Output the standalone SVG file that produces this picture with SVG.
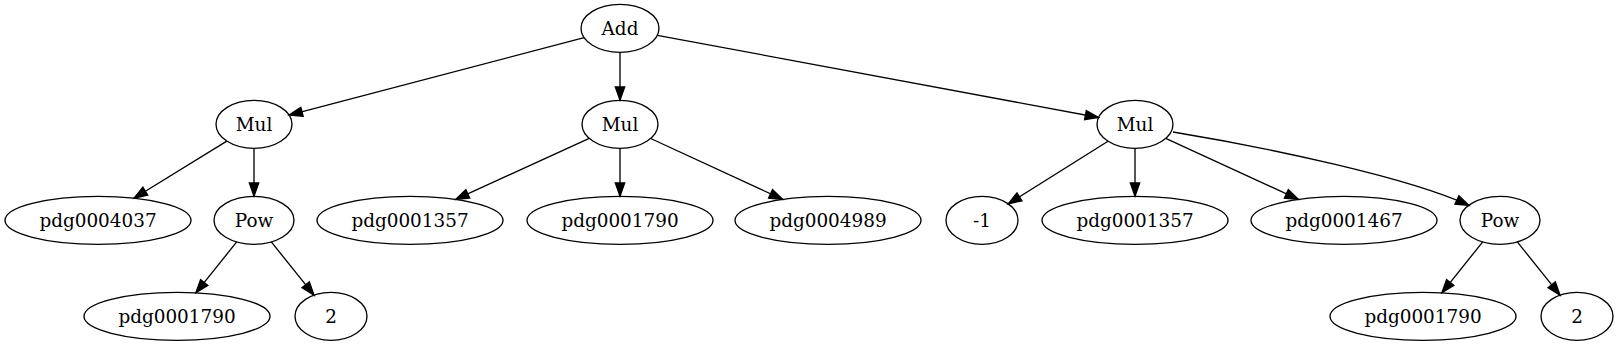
<svg xmlns="http://www.w3.org/2000/svg" width="1618" height="347" viewBox="0 0 1618 347">
<style>
.n ellipse{fill:none;stroke:#000;stroke-width:1.33}
.n text{font-family:"DejaVu Serif","Liberation Serif",serif;font-size:18.4px;text-anchor:middle;fill:#000}
.e path{fill:none;stroke:#000;stroke-width:1.33;marker-end:url(#ah)}
</style>
<defs>
<marker id="ah" markerUnits="userSpaceOnUse" markerWidth="16" markerHeight="12" refX="13.3" refY="5" orient="auto" overflow="visible">
<path d="M0,0.33 L13.3,5 L0,9.67 Z" fill="#000" stroke="#000" stroke-width="1.33"/>
</marker>
</defs>
<rect width="1618" height="347" fill="#fff"/>
<g id="connectors" class="e">
<path d="M584.1,37.7 L289.1,115.1"/>
<path d="M620,52.3 L620,100.3"/>
<path d="M657.3,35.3 L1098.5,117.5"/>
<path d="M226.8,141.1 L134,198.2"/>
<path d="M254,148.3 L254,196.3"/>
<path d="M236.7,241.9 L195.9,292.8"/>
<path d="M271.3,241.9 L314,295.1"/>
<path d="M589.2,138.4 L455.7,199.4"/>
<path d="M620,148.3 L620,196.3"/>
<path d="M650.7,138.5 L782.6,199.4"/>
<path d="M1108,141.2 L1008.2,203.9"/>
<path d="M1135,148.3 L1135,196.3"/>
<path d="M1165.7,138.4 L1298.4,199.4"/>
<path d="M1173,132 C1270,148 1410,178 1469,205.5"/>
<path d="M1482.7,241.9 L1441.9,292.8"/>
<path d="M1517.3,241.9 L1560,295.1"/>
</g>
<g id="add" class="n"><ellipse cx="620" cy="28.3" rx="39" ry="24"/><text x="620" y="34.5">Add</text></g>
<g id="mul1" class="n"><ellipse cx="254" cy="124.3" rx="38" ry="24"/><text x="254" y="130.5">Mul</text></g>
<g id="mul2" class="n"><ellipse cx="620" cy="124.3" rx="38" ry="24"/><text x="620" y="130.5">Mul</text></g>
<g id="mul3" class="n"><ellipse cx="1135" cy="124.3" rx="38" ry="24"/><text x="1135" y="130.5">Mul</text></g>
<g id="pdg0004037" class="n"><ellipse cx="98" cy="220.3" rx="93" ry="24"/><text x="98" y="226.5">pdg0004037</text></g>
<g id="pow1" class="n"><ellipse cx="254" cy="220.3" rx="40" ry="24"/><text x="254" y="226.5">Pow</text></g>
<g id="pdg0001357a" class="n"><ellipse cx="410" cy="220.3" rx="93" ry="24"/><text x="410" y="226.5">pdg0001357</text></g>
<g id="pdg0001790a" class="n"><ellipse cx="620" cy="220.3" rx="93" ry="24"/><text x="620" y="226.5">pdg0001790</text></g>
<g id="pdg0004989" class="n"><ellipse cx="828" cy="220.3" rx="93" ry="24"/><text x="828" y="226.5">pdg0004989</text></g>
<g id="neg1" class="n"><ellipse cx="982" cy="220.3" rx="36" ry="24"/><text x="982" y="226.5">-1</text></g>
<g id="pdg0001357b" class="n"><ellipse cx="1135" cy="220.3" rx="93" ry="24"/><text x="1135" y="226.5">pdg0001357</text></g>
<g id="pdg0001467" class="n"><ellipse cx="1344" cy="220.3" rx="93" ry="24"/><text x="1344" y="226.5">pdg0001467</text></g>
<g id="pow2" class="n"><ellipse cx="1500" cy="220.3" rx="40" ry="24"/><text x="1500" y="226.5">Pow</text></g>
<g id="pdg0001790b" class="n"><ellipse cx="177" cy="316.3" rx="93" ry="24"/><text x="177" y="322.5">pdg0001790</text></g>
<g id="two1" class="n"><ellipse cx="331" cy="316.3" rx="36" ry="24"/><text x="331" y="322.5">2</text></g>
<g id="pdg0001790c" class="n"><ellipse cx="1423" cy="316.3" rx="93" ry="24"/><text x="1423" y="322.5">pdg0001790</text></g>
<g id="two2" class="n"><ellipse cx="1577" cy="316.3" rx="36" ry="24"/><text x="1577" y="322.5">2</text></g>
</svg>
